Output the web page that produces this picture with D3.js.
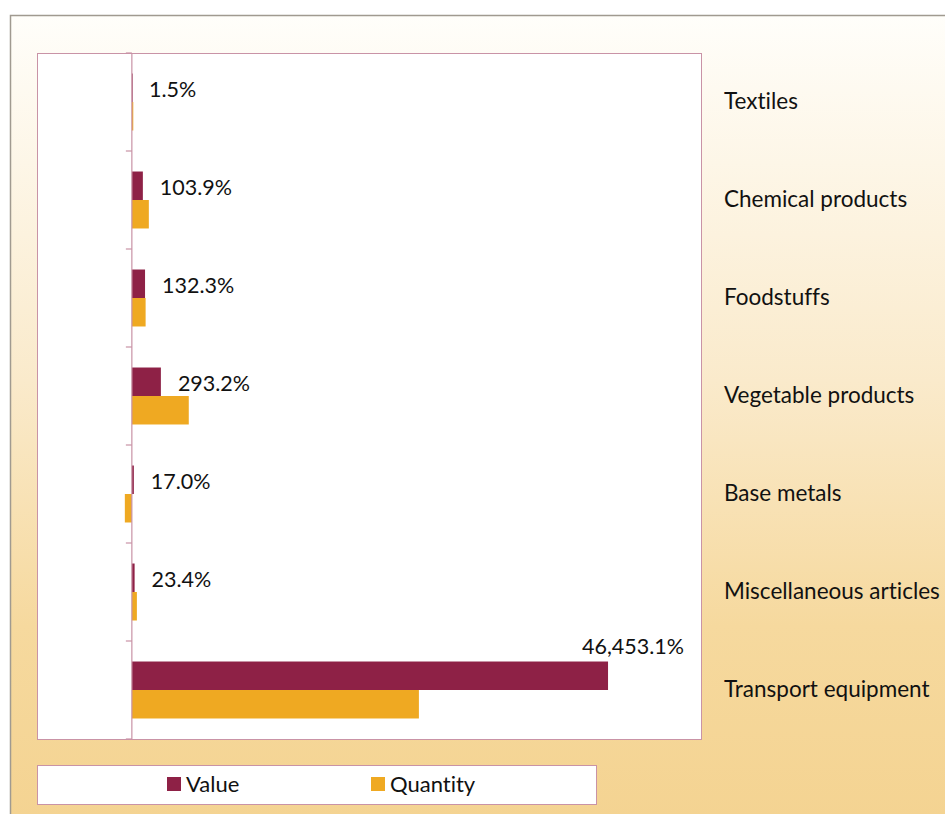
<!DOCTYPE html>
<html>
<head>
<meta charset="utf-8">
<script src="https://cdn.jsdelivr.net/npm/d3@7"></script>
<style>
  html, body { margin: 0; padding: 0; background: #fff; }
  svg { display: block; }
  text { font-family: Lato, "Open Sans", sans-serif; fill: #111; font-variant-ligatures: none; }
</style>
</head>
<body>
<script>
// categories, top to bottom
const categories = ['Textiles', 'Chemical products', 'Foodstuffs', 'Vegetable products',
                    'Base metals', 'Miscellaneous articles', 'Transport equipment'];
const series = ['Value', 'Quantity'];
// bar lengths (chart units)
const valueData = [0.2, 11.6, 13.9, 30.6, 2.1, 2.9, 502];
const quantityData = [1.5, 17.9, 14.5, 60, -7.4, 5.3, 302.6];
// data labels shown next to the bars
const labelData = ['1.5%', '103.9%', '132.3%', '293.2%', '17.0%', '23.4%', '46,453.1%'];

const colors = { Value: '#8e2146', Quantity: '#efa922' };

const W = 945, H = 814;
const plot = { left: 37, right: 701, top: 53, bottom: 739 };

const svg = d3.select('body').append('svg')
    .attr('width', W)
    .attr('height', H);

// background gradient
const grad = svg.append('defs').append('linearGradient')
    .attr('id', 'bg').attr('x1', 0).attr('y1', 0).attr('x2', 0).attr('y2', 1);
grad.append('stop').attr('offset', '0%').attr('stop-color', '#fffefa');
grad.append('stop').attr('offset', '45%').attr('stop-color', '#faeacb');
grad.append('stop').attr('offset', '75%').attr('stop-color', '#f6d99e');
grad.append('stop').attr('offset', '100%').attr('stop-color', '#f4d391');

svg.append('rect')
    .attr('x', 10.5).attr('y', 15.5)
    .attr('width', W).attr('height', H)
    .attr('fill', 'url(#bg)')
    .attr('stroke', '#a09a90')
    .attr('stroke-width', 1.5);

// plot area
svg.append('rect')
    .attr('x', plot.left + 0.5).attr('y', plot.top + 0.5)
    .attr('width', plot.right - plot.left).attr('height', plot.bottom - plot.top)
    .attr('fill', '#fff')
    .attr('stroke', '#c993a6')
    .attr('stroke-width', 1);

// scales
const x = d3.scaleLinear()
    .domain([-100, 600])
    .range([plot.left, plot.right]);

const y = d3.scaleBand()
    .domain(categories)
    .range([plot.top, plot.bottom]);

const ySub = d3.scaleBand()
    .domain(series)
    .range([0, y.bandwidth()])
    .paddingOuter(0.72);

const rows = categories.map((c, i) => ({
    cat: c,
    Value: valueData[i],
    Quantity: quantityData[i],
    label: labelData[i]
}));

// bars
const g = svg.append('g');
series.forEach(s => {
    g.selectAll('.bar-' + s)
        .data(rows)
        .enter()
        .append('rect')
        .attr('x', d => x(Math.min(0, d[s])))
        .attr('y', d => y(d.cat) + ySub(s))
        .attr('width', d => Math.max(0.8, Math.abs(x(d[s]) - x(0))))
        .attr('height', ySub.bandwidth())
        .attr('fill', colors[s]);
});

// vertical axis with ticks on category boundaries
const axisColor = '#c993a6';
svg.append('line')
    .attr('x1', x(0)).attr('x2', x(0))
    .attr('y1', plot.top).attr('y2', plot.bottom)
    .attr('stroke', axisColor).attr('stroke-width', 1.2);

const tickYs = categories.map(c => y(c)).concat([y.range()[1]]);
svg.selectAll('.tick')
    .data(tickYs)
    .enter()
    .append('line')
    .attr('x1', x(0) - 6).attr('x2', x(0))
    .attr('y1', d => d).attr('y2', d => d)
    .attr('stroke', axisColor).attr('stroke-width', 1.2);

// data labels
svg.selectAll('.dlabel')
    .data(rows)
    .enter()
    .append('text')
    .attr('font-size', 21.5)
    .attr('dominant-baseline', 'central')
    .each(function(d) {
        const t = d3.select(this);
        const barMid = y(d.cat) + ySub('Value') + ySub.bandwidth() / 2;
        const xEnd = x(Math.max(0, d.Value)) + 17;
        if (xEnd + 90 > plot.right) {
            // too long: put it above the bar, right-aligned
            t.attr('x', plot.right - 17).attr('y', barMid - 30).attr('text-anchor', 'end');
        } else {
            t.attr('x', xEnd).attr('y', barMid + 1).attr('text-anchor', 'start');
        }
    })
    .text(d => d.label);

// category labels on the right
svg.selectAll('.clabel')
    .data(categories)
    .enter()
    .append('text')
    .attr('x', 724)
    .attr('y', d => y(d) + y.bandwidth() / 2 - 2)
    .attr('dominant-baseline', 'central')
    .attr('font-size', 22.5)
    .text(d => d);

// legend
const legend = svg.append('g');
legend.append('rect')
    .attr('x', 37.5).attr('y', 765.5)
    .attr('width', 559).attr('height', 39)
    .attr('fill', '#fff')
    .attr('stroke', '#c993a6');

const legendX = { Value: 167, Quantity: 371 };
series.forEach(s => {
    legend.append('rect')
        .attr('x', legendX[s]).attr('y', 777)
        .attr('width', 14).attr('height', 14)
        .attr('fill', colors[s]);
    legend.append('text')
        .attr('x', legendX[s] + 19)
        .attr('y', 783)
        .attr('dominant-baseline', 'central')
        .attr('font-size', 22)
        .text(s);
});
</script>
</body>
</html>
